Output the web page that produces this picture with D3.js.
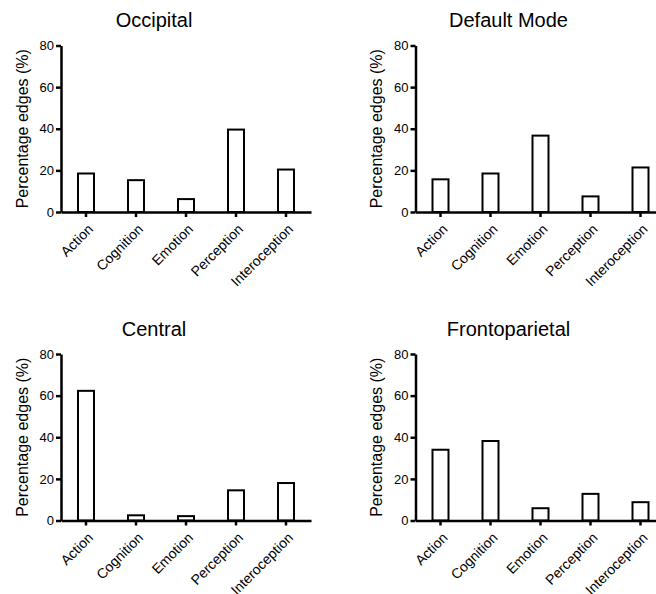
<!DOCTYPE html>
<html>
<head>
<meta charset="utf-8">
<script src="https://cdn.jsdelivr.net/npm/d3@7"></script>
<style>
  body { margin: 0; background: #fff; }
  svg { display: block; }
  text { font-family: "Liberation Sans", Arial, sans-serif; fill: #000; }
</style>
</head>
<body>
<svg id="chart" width="656" height="594"></svg>
<script>
// categories on the x axis (same for every panel)
var categories = ["Action", "Cognition", "Emotion", "Perception", "Interoception"];
// panel titles
var networks = ["Occipital", "Default Mode", "Central", "Frontoparietal"];
// percentage edges per network, in category order
var occipital = [18.5, 15.3, 6.2, 39.6, 20.4];
var defaultMode = [15.7, 18.5, 36.7, 7.5, 21.4];
var central = [62.3, 2.5, 2.1, 14.5, 18];
var frontoparietal = [34, 38.2, 5.9, 12.8, 8.8];
var yTicks = [0, 20, 40, 60, 80];

var allValues = [occipital, defaultMode, central, frontoparietal];

var svg = d3.select("#chart");

// plot area of each panel (left, top)
var plotW = 250, plotH = 166.5;
var origins = [[61, 45.5], [415.5, 45.5], [61, 354], [415.5, 354]];

networks.forEach(function (name, i) {
    var ox = origins[i][0], oy = origins[i][1];
    var g = svg.append("g").attr("transform", "translate(" + ox + "," + oy + ")");

    var xScale = d3.scaleBand()
        .domain(categories)
        .range([0, plotW])
        .paddingInner(0.68)
        .paddingOuter(0.34);

    var yScale = d3.scaleLinear()
        .domain([0, 80])
        .range([plotH, 0]);

    // bars
    g.selectAll("rect")
        .data(allValues[i])
        .enter()
        .append("rect")
        .attr("x", function (d, j) { return xScale(categories[j]); })
        .attr("width", xScale.bandwidth())
        .attr("y", function (d) { return yScale(d); })
        .attr("height", function (d) { return plotH - yScale(d); })
        .attr("fill", "#fff")
        .attr("stroke", "#000")
        .attr("stroke-width", 2);

    // y axis
    var yAxis = g.append("g")
        .call(d3.axisLeft(yScale).tickValues(yTicks).tickSize(5).tickPadding(2).tickSizeOuter(0));
    yAxis.select(".domain").attr("stroke-width", 2.5);
    yAxis.selectAll(".tick line").attr("stroke-width", 2.5);
    yAxis.selectAll("text").style("font-size", "13px").attr("font-family", null);

    // x axis, labels rotated 45 degrees
    var xAxis = g.append("g")
        .attr("transform", "translate(0," + plotH + ")")
        .call(d3.axisBottom(xScale).tickSize(5).tickSizeOuter(0));
    xAxis.select(".domain").attr("stroke-width", 2.5);
    xAxis.selectAll(".tick line").attr("stroke-width", 2.5);
    xAxis.selectAll("text")
        .attr("font-family", null)
        .style("font-size", "14px")
        .style("text-anchor", "end")
        .attr("x", 8)
        .attr("y", 18)
        .attr("dy", 0)
        .attr("transform", "rotate(-45, 8, 18)");

    // title
    g.append("text")
        .attr("x", 93)
        .attr("y", -18.5)
        .attr("text-anchor", "middle")
        .style("font-size", "20px")
        .text(name);

    // y label
    g.append("text")
        .attr("transform", "translate(-39," + (plotH / 2) + ") rotate(-90)")
        .attr("text-anchor", "middle")
        .attr("dy", "0.35em")
        .style("font-size", "16px")
        .text("Percentage edges (%)");
});
</script>
</body>
</html>
